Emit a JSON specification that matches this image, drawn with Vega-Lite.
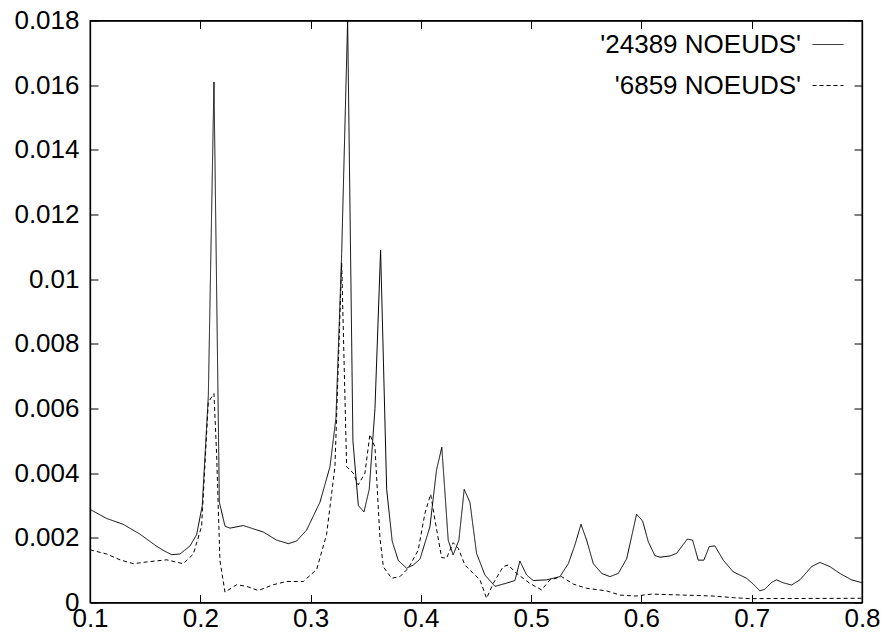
{
  "$schema": "https://vega.github.io/schema/vega-lite/v6.json",
  "autosize": {"type": "none"},
  "width": 772,
  "height": 582,
  "padding": {"left": 90, "top": 20.5, "right": 23, "bottom": 31.5},
  "background": "white",
  "config": {
    "view": {"stroke": "black", "strokeWidth": 1.3},
    "font": "Liberation Sans",
    "axis": {
      "domainColor": "black", "domainWidth": 1.3,
      "tickColor": "black", "tickWidth": 1, "tickSize": -8,
      "labelColor": "black", "labelFont": "Liberation Sans", "labelFontSize": 26,
      "grid": false, "title": null
    },
    "legend": {
      "labelFont": "Liberation Sans", "labelFontSize": 26, "labelColor": "black", "labelLimit": 0
    }
  },
  "datasets": {
    "curves": [
      {"x": 0.1, "y": 0.00288, "s": "'24389 NOEUDS'"},
      {"x": 0.115, "y": 0.0026, "s": "'24389 NOEUDS'"},
      {"x": 0.13, "y": 0.00242, "s": "'24389 NOEUDS'"},
      {"x": 0.145, "y": 0.00212, "s": "'24389 NOEUDS'"},
      {"x": 0.16, "y": 0.00175, "s": "'24389 NOEUDS'"},
      {"x": 0.167, "y": 0.0016, "s": "'24389 NOEUDS'"},
      {"x": 0.174, "y": 0.00148, "s": "'24389 NOEUDS'"},
      {"x": 0.1816, "y": 0.0015, "s": "'24389 NOEUDS'"},
      {"x": 0.1907, "y": 0.00175, "s": "'24389 NOEUDS'"},
      {"x": 0.1967, "y": 0.0021, "s": "'24389 NOEUDS'"},
      {"x": 0.2018, "y": 0.003, "s": "'24389 NOEUDS'"},
      {"x": 0.2073, "y": 0.0064, "s": "'24389 NOEUDS'"},
      {"x": 0.2124, "y": 0.0161, "s": "'24389 NOEUDS'"},
      {"x": 0.2173, "y": 0.0031, "s": "'24389 NOEUDS'"},
      {"x": 0.2224, "y": 0.00236, "s": "'24389 NOEUDS'"},
      {"x": 0.2269, "y": 0.0023, "s": "'24389 NOEUDS'"},
      {"x": 0.239, "y": 0.00238, "s": "'24389 NOEUDS'"},
      {"x": 0.2571, "y": 0.00218, "s": "'24389 NOEUDS'"},
      {"x": 0.2692, "y": 0.00193, "s": "'24389 NOEUDS'"},
      {"x": 0.2798, "y": 0.00182, "s": "'24389 NOEUDS'"},
      {"x": 0.2873, "y": 0.0019, "s": "'24389 NOEUDS'"},
      {"x": 0.2964, "y": 0.00224, "s": "'24389 NOEUDS'"},
      {"x": 0.3085, "y": 0.0031, "s": "'24389 NOEUDS'"},
      {"x": 0.3176, "y": 0.0042, "s": "'24389 NOEUDS'"},
      {"x": 0.323, "y": 0.0057, "s": "'24389 NOEUDS'"},
      {"x": 0.3282, "y": 0.0108, "s": "'24389 NOEUDS'"},
      {"x": 0.3336, "y": 0.018, "s": "'24389 NOEUDS'"},
      {"x": 0.3384, "y": 0.005, "s": "'24389 NOEUDS'"},
      {"x": 0.3433, "y": 0.003, "s": "'24389 NOEUDS'"},
      {"x": 0.3484, "y": 0.0028, "s": "'24389 NOEUDS'"},
      {"x": 0.3532, "y": 0.0035, "s": "'24389 NOEUDS'"},
      {"x": 0.3584, "y": 0.006, "s": "'24389 NOEUDS'"},
      {"x": 0.3635, "y": 0.0109, "s": "'24389 NOEUDS'"},
      {"x": 0.369, "y": 0.0035, "s": "'24389 NOEUDS'"},
      {"x": 0.374, "y": 0.0019, "s": "'24389 NOEUDS'"},
      {"x": 0.3795, "y": 0.0013, "s": "'24389 NOEUDS'"},
      {"x": 0.3871, "y": 0.00106, "s": "'24389 NOEUDS'"},
      {"x": 0.3931, "y": 0.00116, "s": "'24389 NOEUDS'"},
      {"x": 0.3992, "y": 0.00134, "s": "'24389 NOEUDS'"},
      {"x": 0.4082, "y": 0.00234, "s": "'24389 NOEUDS'"},
      {"x": 0.4142, "y": 0.0041, "s": "'24389 NOEUDS'"},
      {"x": 0.419, "y": 0.0048, "s": "'24389 NOEUDS'"},
      {"x": 0.4248, "y": 0.00193, "s": "'24389 NOEUDS'"},
      {"x": 0.4293, "y": 0.00147, "s": "'24389 NOEUDS'"},
      {"x": 0.4345, "y": 0.00193, "s": "'24389 NOEUDS'"},
      {"x": 0.4393, "y": 0.0035, "s": "'24389 NOEUDS'"},
      {"x": 0.4445, "y": 0.0031, "s": "'24389 NOEUDS'"},
      {"x": 0.4505, "y": 0.00152, "s": "'24389 NOEUDS'"},
      {"x": 0.4581, "y": 0.00085, "s": "'24389 NOEUDS'"},
      {"x": 0.4672, "y": 0.0005, "s": "'24389 NOEUDS'"},
      {"x": 0.4778, "y": 0.0006, "s": "'24389 NOEUDS'"},
      {"x": 0.4853, "y": 0.00068, "s": "'24389 NOEUDS'"},
      {"x": 0.4898, "y": 0.00128, "s": "'24389 NOEUDS'"},
      {"x": 0.4959, "y": 0.00085, "s": "'24389 NOEUDS'"},
      {"x": 0.5019, "y": 0.00068, "s": "'24389 NOEUDS'"},
      {"x": 0.514, "y": 0.0007, "s": "'24389 NOEUDS'"},
      {"x": 0.5261, "y": 0.0008, "s": "'24389 NOEUDS'"},
      {"x": 0.5337, "y": 0.0012, "s": "'24389 NOEUDS'"},
      {"x": 0.5397, "y": 0.00178, "s": "'24389 NOEUDS'"},
      {"x": 0.5452, "y": 0.00242, "s": "'24389 NOEUDS'"},
      {"x": 0.5503, "y": 0.00193, "s": "'24389 NOEUDS'"},
      {"x": 0.5564, "y": 0.0012, "s": "'24389 NOEUDS'"},
      {"x": 0.564, "y": 0.0009, "s": "'24389 NOEUDS'"},
      {"x": 0.5715, "y": 0.0008, "s": "'24389 NOEUDS'"},
      {"x": 0.579, "y": 0.0009, "s": "'24389 NOEUDS'"},
      {"x": 0.5866, "y": 0.00135, "s": "'24389 NOEUDS'"},
      {"x": 0.5956, "y": 0.00273, "s": "'24389 NOEUDS'"},
      {"x": 0.6011, "y": 0.00252, "s": "'24389 NOEUDS'"},
      {"x": 0.6062, "y": 0.00188, "s": "'24389 NOEUDS'"},
      {"x": 0.6122, "y": 0.00145, "s": "'24389 NOEUDS'"},
      {"x": 0.6168, "y": 0.0014, "s": "'24389 NOEUDS'"},
      {"x": 0.6259, "y": 0.00144, "s": "'24389 NOEUDS'"},
      {"x": 0.6319, "y": 0.00152, "s": "'24389 NOEUDS'"},
      {"x": 0.6416, "y": 0.00196, "s": "'24389 NOEUDS'"},
      {"x": 0.6464, "y": 0.00193, "s": "'24389 NOEUDS'"},
      {"x": 0.6515, "y": 0.00131, "s": "'24389 NOEUDS'"},
      {"x": 0.6566, "y": 0.00131, "s": "'24389 NOEUDS'"},
      {"x": 0.6615, "y": 0.00173, "s": "'24389 NOEUDS'"},
      {"x": 0.6666, "y": 0.00175, "s": "'24389 NOEUDS'"},
      {"x": 0.6742, "y": 0.00131, "s": "'24389 NOEUDS'"},
      {"x": 0.6832, "y": 0.00095, "s": "'24389 NOEUDS'"},
      {"x": 0.6953, "y": 0.00075, "s": "'24389 NOEUDS'"},
      {"x": 0.7014, "y": 0.00057, "s": "'24389 NOEUDS'"},
      {"x": 0.7074, "y": 0.00036, "s": "'24389 NOEUDS'"},
      {"x": 0.7119, "y": 0.00041, "s": "'24389 NOEUDS'"},
      {"x": 0.718, "y": 0.00062, "s": "'24389 NOEUDS'"},
      {"x": 0.7225, "y": 0.0007, "s": "'24389 NOEUDS'"},
      {"x": 0.7286, "y": 0.00061, "s": "'24389 NOEUDS'"},
      {"x": 0.7361, "y": 0.00054, "s": "'24389 NOEUDS'"},
      {"x": 0.7437, "y": 0.0007, "s": "'24389 NOEUDS'"},
      {"x": 0.7543, "y": 0.00111, "s": "'24389 NOEUDS'"},
      {"x": 0.7618, "y": 0.00124, "s": "'24389 NOEUDS'"},
      {"x": 0.7709, "y": 0.00111, "s": "'24389 NOEUDS'"},
      {"x": 0.7799, "y": 0.0009, "s": "'24389 NOEUDS'"},
      {"x": 0.7905, "y": 0.0007, "s": "'24389 NOEUDS'"},
      {"x": 0.8, "y": 0.00061, "s": "'24389 NOEUDS'"},
      {"x": 0.1, "y": 0.00163, "s": "'6859 NOEUDS'"},
      {"x": 0.1151, "y": 0.0015, "s": "'6859 NOEUDS'"},
      {"x": 0.1272, "y": 0.00132, "s": "'6859 NOEUDS'"},
      {"x": 0.1393, "y": 0.0012, "s": "'6859 NOEUDS'"},
      {"x": 0.1529, "y": 0.00126, "s": "'6859 NOEUDS'"},
      {"x": 0.1695, "y": 0.00132, "s": "'6859 NOEUDS'"},
      {"x": 0.1846, "y": 0.0012, "s": "'6859 NOEUDS'"},
      {"x": 0.1937, "y": 0.0015, "s": "'6859 NOEUDS'"},
      {"x": 0.2012, "y": 0.00236, "s": "'6859 NOEUDS'"},
      {"x": 0.2073, "y": 0.0062, "s": "'6859 NOEUDS'"},
      {"x": 0.2124, "y": 0.00646, "s": "'6859 NOEUDS'"},
      {"x": 0.2148, "y": 0.0046, "s": "'6859 NOEUDS'"},
      {"x": 0.2178, "y": 0.0013, "s": "'6859 NOEUDS'"},
      {"x": 0.2224, "y": 0.00032, "s": "'6859 NOEUDS'"},
      {"x": 0.233, "y": 0.00055, "s": "'6859 NOEUDS'"},
      {"x": 0.242, "y": 0.0005, "s": "'6859 NOEUDS'"},
      {"x": 0.2526, "y": 0.00037, "s": "'6859 NOEUDS'"},
      {"x": 0.2662, "y": 0.00055, "s": "'6859 NOEUDS'"},
      {"x": 0.2783, "y": 0.00065, "s": "'6859 NOEUDS'"},
      {"x": 0.2934, "y": 0.00065, "s": "'6859 NOEUDS'"},
      {"x": 0.3055, "y": 0.00102, "s": "'6859 NOEUDS'"},
      {"x": 0.3145, "y": 0.0021, "s": "'6859 NOEUDS'"},
      {"x": 0.3221, "y": 0.0042, "s": "'6859 NOEUDS'"},
      {"x": 0.3282, "y": 0.0105, "s": "'6859 NOEUDS'"},
      {"x": 0.3327, "y": 0.0042, "s": "'6859 NOEUDS'"},
      {"x": 0.3387, "y": 0.004, "s": "'6859 NOEUDS'"},
      {"x": 0.3432, "y": 0.00364, "s": "'6859 NOEUDS'"},
      {"x": 0.3493, "y": 0.004, "s": "'6859 NOEUDS'"},
      {"x": 0.3538, "y": 0.0052, "s": "'6859 NOEUDS'"},
      {"x": 0.3584, "y": 0.0048, "s": "'6859 NOEUDS'"},
      {"x": 0.3629, "y": 0.002, "s": "'6859 NOEUDS'"},
      {"x": 0.366, "y": 0.0011, "s": "'6859 NOEUDS'"},
      {"x": 0.3735, "y": 0.00075, "s": "'6859 NOEUDS'"},
      {"x": 0.381, "y": 0.0008, "s": "'6859 NOEUDS'"},
      {"x": 0.3886, "y": 0.00106, "s": "'6859 NOEUDS'"},
      {"x": 0.3976, "y": 0.00162, "s": "'6859 NOEUDS'"},
      {"x": 0.4037, "y": 0.00276, "s": "'6859 NOEUDS'"},
      {"x": 0.4089, "y": 0.00335, "s": "'6859 NOEUDS'"},
      {"x": 0.4128, "y": 0.00255, "s": "'6859 NOEUDS'"},
      {"x": 0.4188, "y": 0.00139, "s": "'6859 NOEUDS'"},
      {"x": 0.4233, "y": 0.00137, "s": "'6859 NOEUDS'"},
      {"x": 0.4293, "y": 0.00185, "s": "'6859 NOEUDS'"},
      {"x": 0.4339, "y": 0.00168, "s": "'6859 NOEUDS'"},
      {"x": 0.4399, "y": 0.00116, "s": "'6859 NOEUDS'"},
      {"x": 0.4475, "y": 0.0009, "s": "'6859 NOEUDS'"},
      {"x": 0.4536, "y": 0.0007, "s": "'6859 NOEUDS'"},
      {"x": 0.4596, "y": 0.00013, "s": "'6859 NOEUDS'"},
      {"x": 0.4656, "y": 0.00059, "s": "'6859 NOEUDS'"},
      {"x": 0.4747, "y": 0.00111, "s": "'6859 NOEUDS'"},
      {"x": 0.4792, "y": 0.00116, "s": "'6859 NOEUDS'"},
      {"x": 0.4868, "y": 0.0009, "s": "'6859 NOEUDS'"},
      {"x": 0.4989, "y": 0.00059, "s": "'6859 NOEUDS'"},
      {"x": 0.5095, "y": 0.00039, "s": "'6859 NOEUDS'"},
      {"x": 0.517, "y": 0.0007, "s": "'6859 NOEUDS'"},
      {"x": 0.5276, "y": 0.0008, "s": "'6859 NOEUDS'"},
      {"x": 0.5382, "y": 0.00057, "s": "'6859 NOEUDS'"},
      {"x": 0.5503, "y": 0.00044, "s": "'6859 NOEUDS'"},
      {"x": 0.5684, "y": 0.00036, "s": "'6859 NOEUDS'"},
      {"x": 0.5805, "y": 0.00023, "s": "'6859 NOEUDS'"},
      {"x": 0.595, "y": 0.0002, "s": "'6859 NOEUDS'"},
      {"x": 0.6092, "y": 0.00026, "s": "'6859 NOEUDS'"},
      {"x": 0.6379, "y": 0.00023, "s": "'6859 NOEUDS'"},
      {"x": 0.665, "y": 0.0002, "s": "'6859 NOEUDS'"},
      {"x": 0.6832, "y": 0.00015, "s": "'6859 NOEUDS'"},
      {"x": 0.698, "y": 0.00012, "s": "'6859 NOEUDS'"},
      {"x": 0.8, "y": 0.00013, "s": "'6859 NOEUDS'"}
    ]
  },
  "data": {"name": "curves"},
  "layer": [
    {
      "mark": {"type": "line", "color": "black", "strokeWidth": 1, "clip": true},
      "encoding": {
        "x": {"field": "x", "type": "quantitative",
              "scale": {"domain": [0.1, 0.8], "nice": false, "zero": false},
              "axis": {"orient": "bottom", "values": [0.1,0.2,0.3,0.4,0.5,0.6,0.7,0.8], "format": ".1f", "labelPadding": 11, "labelFlush": false, "labelOverlap": false}},
        "y": {"field": "y", "type": "quantitative",
              "scale": {"domain": [0, 0.018], "nice": false},
              "axis": {"orient": "left", "values": [0,0.002,0.004,0.006,0.008,0.01,0.012,0.014,0.016,0.018], "format": ".3~f", "labelPadding": 19, "labelFlush": false, "labelOverlap": false}},
        "strokeDash": {"field": "s", "type": "nominal",
              "scale": {"domain": ["'24389 NOEUDS'", "'6859 NOEUDS'"], "range": [[1, 0], [4, 3]]},
              "legend": {"orient": "none", "legendX": 722, "legendY": 8, "title": null,
                         "padding": 0, "symbolType": "stroke", "symbolSize": 961,
                         "symbolStrokeColor": "black", "symbolStrokeWidth": 1,
                         "labelAlign": "right", "labelOffset": -43, "rowPadding": 12,
                         "labelFontSize": 26, "labelLimit": 0}}
      }
    },
    {
      "mark": {"type": "line", "opacity": 0},
      "encoding": {
        "x": {"field": "x", "type": "quantitative",
              "axis": {"orient": "top", "values": [0.1,0.2,0.3,0.4,0.5,0.6,0.7,0.8], "labels": false}},
        "y": {"field": "y", "type": "quantitative",
              "axis": {"orient": "right", "values": [0,0.002,0.004,0.006,0.008,0.01,0.012,0.014,0.016,0.018], "labels": false}}
      }
    }
  ],
  "resolve": {"axis": {"x": "independent", "y": "independent"}}
}
